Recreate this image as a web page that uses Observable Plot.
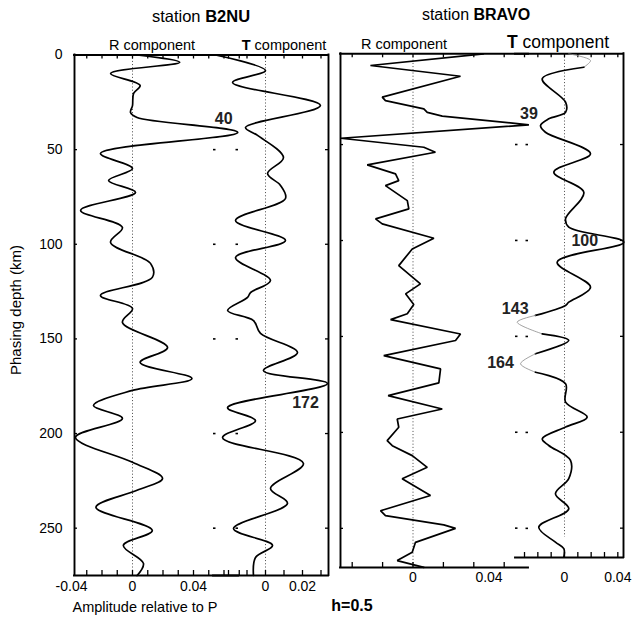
<!DOCTYPE html>
<html><head><meta charset="utf-8">
<script src="https://cdn.jsdelivr.net/npm/d3@7"></script>
<script src="https://cdn.jsdelivr.net/npm/@observablehq/plot@0.6"></script>
<style>
body{margin:0;background:#fff;}
#wrap{position:relative;width:633px;height:620px;font-family:"Liberation Sans",Arial,Helvetica,sans-serif;color:#000;overflow:hidden}
#wrap svg{position:absolute;left:0;top:0;background:transparent;overflow:visible}
.lbl{position:absolute;white-space:nowrap;transform:translate(-50%,-50%);line-height:1}
</style></head><body><div id="wrap"></div>
<script>
// ---------- data ----------
const b2nuRDepth = [0,3.8,9.8,16.1,20.3,26.7,30.4,33,40.9,52,60,66.3,72.6,82.1,91.1,99,110.1,117.5,127,133.9,141.3,154.5,162.4,170.9,177.2,185.2,192,202,215.2,223.7,230,239,251.2,259.1,268.6,275];
const b2nuRAmp = [0.003,0.031,-0.0144,0.005,0.0007,0,-0.0013,0.003,0.069,-0.021,0,-0.0157,0.002,-0.034,-0.0066,-0.0144,0.0118,0.013,-0.021,0,-0.0066,0.023,0.005,0.039,0,-0.0256,-0.0066,-0.0374,0,0.0197,0.003,-0.024,0.013,-0.006,0.0072,0.003];

const b2nuTDepth = [0,8.2,14.5,26.7,38.3,42.5,54.2,62.6,68.9,75.8,87.4,98,107,119.1,125.5,128.1,135,140.3,147.1,157.2,166.7,173.6,186.3,193.2,202.2,215.8,229,236.9,250.2,259.1,265.5,275];
const b2nuTAmp = [-0.027,0,-0.0178,0.0297,-0.0108,-0.0043,0.0097,0.0011,0.0081,0.0108,-0.0162,0.0108,-0.0162,0.0027,-0.0081,-0.0097,-0.0205,-0.0065,-0.0027,0.0173,-0.0011,0.0335,-0.0205,-0.0054,-0.0232,0.0205,0.0027,0.0119,-0.0173,0.0038,-0.0054,-0.0065];

const bravoRDepth = [2.7,8.8,14.4,25.3,27.1,31.4,33.2,35.2,39.7,46.7,51.4,54,60.6,65.3,68.8,71.4,79.2,83.5,88.7,91.3,98.8,104.4,113.1,122.6,127.8,133.4,138.2,141.2,148.7,152.1,160,166.9,174.2,180.8,187.8,193,197.3,204.3,206.9,212.1,218.2,224.2,232.9,240.8,243.4,248.2,250,257.3,262.5,266.8,270.3];
const bravoRAmp = [0.0371,-0.0224,0.025,-0.0162,-0.0145,0.0057,0.0075,0.0154,0.061,-0.038,0.0057,0.0118,-0.0241,-0.0092,-0.0075,-0.0145,-0.003,-0.0022,-0.0197,-0.0162,0.011,-0.0004,-0.0075,0.0039,-0.0039,0.0004,-0.003,-0.0118,0.025,0.0224,-0.0154,0.0145,0.0136,-0.0131,0.0154,-0.0083,-0.0075,-0.0136,-0.0109,-0.0004,0.0075,-0.0057,0.0092,-0.0171,-0.0145,0.0162,0.0224,0.0013,-0.0004,-0.0083,0.0057];

const bravoTDepth = [2.7,6.2,9.7,15.7,27.9,33.2,36.6,40.1,43.6,54.8,64.4,74.9,88.7,93.1,100.9,111.3,124.4,132.2,133.9,139.1,142.6,148.7,152.1,159.1,164.3,168.7,174.7,184.3,192.1,197.3,203.4,206.9,214.7,224.2,232.1,239.9,249.5,257.3,260.7,265.1];
const bravoTAmp = [0.0032,0.0195,0.0145,-0.0167,0.0008,0.0008,-0.0118,-0.018,-0.0143,0.0195,-0.008,0.0145,0.0008,0.0032,0.0445,-0.0055,0.0195,0.0032,0.0008,-0.0218,-0.0355,-0.0167,0.0032,-0.0218,-0.033,-0.0218,0.0008,0.0008,0.017,0.0008,-0.0167,-0.0118,0.0045,0.0032,-0.0068,0.0032,-0.0193,-0.0068,-0.0005,-0.0005];
const bravoTGrayRanges = [[2.7,9.7],[139.1,148.7],[159.1,168.7]];

const depthTicks = [0,50,100,150,200,250];
const b2nuRTicks = [-0.03,-0.02,-0.01,0,0.01,0.02,0.03,0.04,0.05,0.06,0.07];
const b2nuRTickLabels = [-0.04,0,0.04];
const b2nuTTicks = [-0.02,-0.01,0,0.01,0.02,0.03];
const b2nuTTickLabels = [0,0.02];
const bravoRTicks = [-0.032,-0.016,0,0.016,0.032,0.048];
const bravoRTickLabels = [0,0.04];
const bravoTTicks = [-0.03,-0.02,-0.01,0,0.01,0.02,0.03,0.04];
const bravoTTickLabels = [0,0.04];

const b2nuRLabels = [40];
const b2nuTLabels = [172];
const bravoRLabels = [39];
const bravoTLabels = [100,143,164];

// ---------- helpers ----------
const W = 633, H = 620;
const FONT = '"Liberation Sans", Arial, Helvetica, sans-serif';
const wrap = document.getElementById("wrap");
const rows = (ds, as) => ds.map((d, i) => ({depth: d, amp: as[i]}));
const fmt = d => d === 0 ? "0" : String(d);
function nearestAmp(depths, amps, d) {
  let bi = 0; depths.forEach((v, i) => { if (Math.abs(v - d) < Math.abs(depths[bi] - d)) bi = i; });
  return amps[bi];
}

function panel(g) {
  const pw = g.right - g.left, ph = g.bottom - g.top;
  const marks = [];
  const LW = 1.9;
  if (g.frameLeft) marks.push(Plot.ruleX([g.xDomain[0]], {strokeWidth: LW, strokeLinecap: "square"}));
  if (g.frameRight) marks.push(Plot.ruleX([g.xDomain[1]], {strokeWidth: LW, strokeLinecap: "square"}));
  marks.push(Plot.ruleY([g.yDomain[0]], {strokeWidth: LW, strokeLinecap: "square"}));
  marks.push(Plot.ruleY([g.yDomain[1]], {strokeWidth: LW, strokeLinecap: "square"}));
  marks.push(Plot.ruleX([0], {y1: g.zeroY1 ?? g.yDomain[0], y2: g.zeroY2 ?? g.yDomain[1], stroke: "#333", strokeWidth: 0.9, strokeDasharray: "1,2.2"}));
  marks.push(Plot.tickX(g.xTicks, {x: d => d, insetTop: ph - 5, strokeWidth: 1.3}));
  marks.push(Plot.tickX(g.xTicks, {x: d => d, insetBottom: ph - 4, strokeWidth: 1.3}));
  const yt = depthTicks.filter(d => d > g.yDomain[0] + 1 && d < g.yDomain[1] - 1);
  if (g.frameLeft) marks.push(Plot.tickY(yt, {y: d => d, insetRight: pw - 3, strokeWidth: 1.3}));
  else marks.push(Plot.tickY(yt, {y: d => d, insetRight: pw - 2.5, strokeWidth: 1.6}));
  if (g.frameRight) marks.push(Plot.tickY(yt, {y: d => d, insetLeft: pw - 3, strokeWidth: 1.3}));
  else marks.push(Plot.tickY(yt, {y: d => d, insetLeft: pw - 2.5, strokeWidth: 1.6}));
  marks.push(Plot.text(g.xLabels, {x: d => d, text: fmt, frameAnchor: "bottom", dy: g.labelDy, fontSize: 14, lineAnchor: "middle"}));
  if (g.yLabels) marks.push(Plot.text(depthTicks, {y: d => d, text: d => String(d), frameAnchor: "left", dx: -12, textAnchor: "end", fontSize: 14, lineAnchor: "middle"}));
  marks.push(...g.traces);
  g.annots.forEach(a => marks.push(Plot.text([a.depth], {x: () => nearestAmp(g.depths, g.amps, a.depth), y: d => d, text: d => String(d), dx: a.dx, dy: a.dy, fontSize: 16, fontWeight: "bold", fill: "#222", lineAnchor: "middle"})));
  const svg = Plot.plot({
    width: W, height: H,
    marginLeft: g.left, marginRight: W - g.right, marginTop: g.top, marginBottom: H - g.bottom,
    x: {domain: g.xDomain, axis: null},
    y: {domain: g.yDomain, reverse: true, axis: null},
    style: {background: "transparent", fontFamily: FONT, color: "#000", overflow: "visible"},
    marks
  });
  wrap.appendChild(svg);
}

// ---------- B2NU R ----------
panel({
  left: 74, right: 238, top: 54.5, bottom: 575,
  xDomain: [(74 - 132) / 1525, (238 - 132) / 1525], yDomain: [0, 275],
  frameLeft: true, frameRight: false,
  xTicks: b2nuRTicks, xLabels: b2nuRTickLabels, labelDy: 11, yLabels: true,
  depths: b2nuRDepth, amps: b2nuRAmp,
  traces: [Plot.line(rows(b2nuRDepth, b2nuRAmp), {x: "amp", y: "depth", curve: "catmull-rom", strokeWidth: 1.7})],
  annots: b2nuRLabels.map(d => ({depth: d, dx: -14, dy: -12}))
});
// ---------- B2NU T ----------
panel({
  left: 213, right: 328, top: 54.5, bottom: 575,
  xDomain: [(213 - 265) / 1850, (328 - 265) / 1850], yDomain: [0, 275],
  frameLeft: false, frameRight: true,
  xTicks: b2nuTTicks, xLabels: b2nuTTickLabels, labelDy: 11,
  depths: b2nuTDepth, amps: b2nuTAmp,
  traces: [Plot.line(rows(b2nuTDepth, b2nuTAmp), {x: "amp", y: "depth", curve: "catmull-rom", strokeWidth: 1.7})],
  annots: b2nuTLabels.map(d => ({depth: d, dx: -22, dy: 22}))
});
// ---------- BRAVO R ----------
panel({
  left: 340, right: 528, top: 53.3, bottom: 567,
  xDomain: [(340 - 412.5) / 1900, (528 - 412.5) / 1900], yDomain: [2.7, 270.4],
  frameLeft: true, frameRight: false,
  xTicks: bravoRTicks, xLabels: bravoRTickLabels, labelDy: 10,
  depths: bravoRDepth, amps: bravoRAmp,
  traces: [Plot.line(rows(bravoRDepth, bravoRAmp), {x: "amp", y: "depth", curve: "linear", strokeWidth: 1.7, strokeLinejoin: "miter"})],
  annots: bravoRLabels.map(d => ({depth: d, dx: 0, dy: -10}))
});
// ---------- BRAVO T ----------
const tRows = rows(bravoTDepth, bravoTAmp);
const isGray = (a, b) => bravoTGrayRanges.some(([lo, hi]) => (a + b) / 2 > lo && (a + b) / 2 < hi);
const runs = [];
for (let i = 0; i < tRows.length - 1; i++) {
  const g = isGray(tRows[i].depth, tRows[i + 1].depth);
  if (!runs.length || runs[runs.length - 1].gray !== g) runs.push({gray: g, pts: [tRows[i]]});
  runs[runs.length - 1].pts.push(tRows[i + 1]);
}
const tTraces = runs.map(r => Plot.line(r.pts, {x: "amp", y: "depth", curve: "catmull-rom", stroke: r.gray ? "#8a8a8a" : "#000", strokeWidth: r.gray ? 0.8 : 1.7}));
panel({
  left: 515, right: 623, top: 53.3, bottom: 557,
  xDomain: [(515 - 564) / 1333, (623 - 564) / 1333], yDomain: [2.7, 265.3],
  frameLeft: false, frameRight: true, zeroY2: 254.8,
  xTicks: bravoTTicks, xLabels: bravoTTickLabels, labelDy: 20,
  depths: bravoTDepth, amps: bravoTAmp,
  traces: tTraces,
  annots: [{depth: 100, dx: -39, dy: 0}, {depth: 143, dx: -2, dy: -14}, {depth: 164, dx: -20, dy: 0}].filter(a => bravoTLabels.includes(a.depth))
});

// ---------- text ----------
function label(html, x, y, css = "") {
  const d = document.createElement("div");
  d.className = "lbl"; d.innerHTML = html;
  d.style.left = x + "px"; d.style.top = y + "px";
  d.style.cssText += css;
  wrap.appendChild(d);
}
label("station <b>B2NU</b>", 201, 16, "font-size:16.5px;");
label("station <b>BRAVO</b>", 476, 15, "font-size:16px;");
label("R component", 152, 45, "font-size:14.5px;");
label("<b>T</b> component", 284, 45, "font-size:14.5px;");
label("R component", 404, 44, "font-size:14.5px;");
label("<b>T</b> component", 558, 43, "font-size:17.5px;");
label("Phasing depth (km)", 15, 310, "font-size:15px;transform:translate(-50%,-50%) rotate(-90deg);");
label("Amplitude relative to P", 145, 607, "font-size:14.5px;");
label("<b>h=0.5</b>", 352, 606, "font-size:16px;");
</script>
</body></html>
